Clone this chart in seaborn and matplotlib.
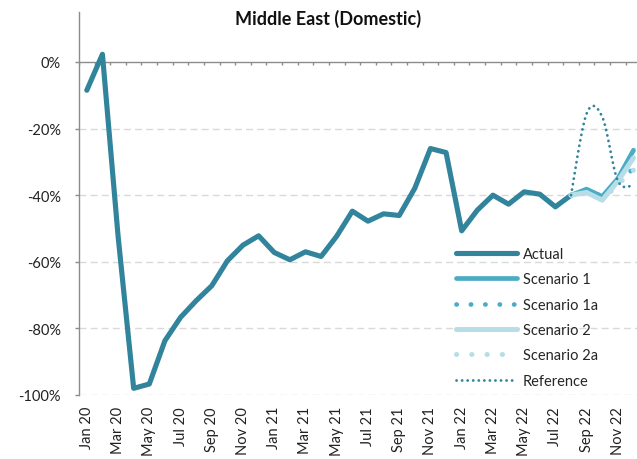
import numpy as np
import pandas as pd
import matplotlib
matplotlib.use("Agg")
import matplotlib.pyplot as plt
import seaborn as sns
from matplotlib.ticker import FuncFormatter

# Monthly change vs. 2019 (%), Middle East domestic market
months = [
    "Jan 20", "Feb 20", "Mar 20", "Apr 20", "May 20", "Jun 20",
    "Jul 20", "Aug 20", "Sep 20", "Oct 20", "Nov 20", "Dec 20",
    "Jan 21", "Feb 21", "Mar 21", "Apr 21", "May 21", "Jun 21",
    "Jul 21", "Aug 21", "Sep 21", "Oct 21", "Nov 21", "Dec 21",
    "Jan 22", "Feb 22", "Mar 22", "Apr 22", "May 22", "Jun 22",
    "Jul 22", "Aug 22", "Sep 22", "Oct 22", "Nov 22", "Dec 22",
]

actual = [
    -8.5, 2.3, -52.2, -98.0, -96.7, -83.7, -76.7, -71.7, -67.2, -59.7,
    -55.0, -52.2, -57.2, -59.4, -57.0, -58.4, -52.3, -44.8, -47.8, -45.6,
    -46.1, -37.9, -26.0, -27.2, -50.7, -44.5, -40.0, -42.7, -39.0, -39.7,
    -43.5, -40.0,
]

# Forecast series run from Aug 22 to Dec 22
scenario_months = ["Aug 22", "Sep 22", "Oct 22", "Nov 22", "Dec 22"]
scenario_1 = [-40.0, -38.2, -40.4, -35.0, -26.5]
scenario_1a = [-40.0, -38.2, -40.4, -36.2, -32.0]
scenario_2 = [-40.0, -39.2, -41.5, -35.8, -28.8]
scenario_2a = [-40.0, -39.2, -41.5, -36.8, -32.5]
reference = [-40.0, -15.5, -16.5, -35.7, -37.0]

y_ticks = [0, -20, -40, -60, -80, -100]

C_ACTUAL = "#31849B"
C_S1 = "#4BACC6"
C_S2 = "#B7DEE8"
C_AXIS = "#8C8C8C"
C_GRID = "#D9D9D9"

sns.set_theme(style="white")
plt.rcParams["font.family"] = ["Lato", "DejaVu Sans"]

pos = {m: i for i, m in enumerate(months)}
df_actual = pd.DataFrame({"x": [pos[m] for m in months[:len(actual)]], "y": actual})
sx = [pos[m] for m in scenario_months]


def smooth_curve(xs, ys, n=24):
    """Catmull-Rom curve through the given points (smoothed line style)."""
    pts = np.column_stack([xs, ys]).astype(float)
    ext = np.vstack([pts[0], pts, pts[-1]])
    out = []
    t = np.linspace(0, 1, n, endpoint=False)[:, None]
    h00 = 2 * t**3 - 3 * t**2 + 1
    h10 = t**3 - 2 * t**2 + t
    h01 = -2 * t**3 + 3 * t**2
    h11 = t**3 - t**2
    for i in range(len(pts) - 1):
        p0, p1, p2, p3 = ext[i], ext[i + 1], ext[i + 2], ext[i + 3]
        m1 = (p2 - p0) / 2
        m2 = (p3 - p1) / 2
        out.append(h00 * p1 + h10 * m1 + h01 * p2 + h11 * m2)
    out.append(pts[-1][None, :])
    seg = np.vstack(out)
    return seg[:, 0], seg[:, 1]


fig = plt.figure(figsize=(6.37, 4.60), dpi=100)
W, H = 637, 460
ax = fig.add_axes([79 / W, (H - 396) / H, 562.3 / W, 383 / H])

# Zero line with category-boundary tick marks
ax.axhline(0, color=C_AXIS, lw=1.0, zorder=1)
bounds = np.arange(len(months) + 1) - 0.5
ax.vlines(bounds, -0.9, 0, color=C_AXIS, lw=1.0, zorder=1)

round_caps = dict(solid_capstyle="round", solid_joinstyle="round",
                  dash_capstyle="round", estimator=None, sort=False)

sns.lineplot(data=df_actual, x="x", y="y", ax=ax, color=C_ACTUAL, lw=3.7,
             label="Actual", zorder=3, **round_caps)
sns.lineplot(x=sx, y=scenario_1, ax=ax, color=C_S1, lw=3.4,
             label="Scenario 1", zorder=3, **round_caps)
sns.lineplot(x=sx, y=scenario_1a, ax=ax, color=C_S1, lw=3.4,
             linestyle=(0, (0.05, 3.0)), label="Scenario 1a", zorder=3,
             **round_caps)
sns.lineplot(x=sx, y=scenario_2, ax=ax, color=C_S2, lw=3.6,
             label="Scenario 2", zorder=3, **round_caps)
sns.lineplot(x=sx, y=scenario_2a, ax=ax, color=C_S2, lw=3.6,
             linestyle=(0, (0.05, 3.0)), label="Scenario 2a", zorder=3,
             **round_caps)
rx, ry = smooth_curve(sx, reference)
sns.lineplot(x=rx, y=ry, ax=ax, color=C_ACTUAL, lw=2.0,
             linestyle=(0, (0.05, 1.95)), label="Reference", zorder=4,
             **round_caps)

ax.set_xlim(-0.5, len(months) - 0.5)
ax.set_ylim(-100, 15)

ax.set_yticks(y_ticks)
ax.yaxis.set_major_formatter(FuncFormatter(lambda v, p: f"{v:.0f}%"))
ax.set_xticks(range(0, len(months), 2))
ax.set_xticklabels(months[::2], rotation=90)

for v in y_ticks[1:]:
    ax.axhline(v, color=C_GRID, lw=1.0, ls=(0, (5, 3)), zorder=0)

for s in ("top", "right", "bottom"):
    ax.spines[s].set_visible(False)
ax.spines["left"].set_color(C_AXIS)
ax.spines["left"].set_linewidth(1.0)

ax.tick_params(axis="y", which="major", left=True, length=3, width=1.0,
               color=C_AXIS, pad=10, labelsize=10.5, labelcolor="#222222")
ax.tick_params(axis="x", which="major", bottom=False, length=0, pad=8,
               labelsize=10.5, labelcolor="#222222")
ax.set_xlabel("")
ax.set_ylabel("")

handles, labels = ax.get_legend_handles_labels()
ax.legend(handles, labels, loc="upper left", frameon=False,
          bbox_to_anchor=(456 / W, 1 - 248 / H), bbox_transform=fig.transFigure,
          borderpad=0, borderaxespad=0, handlelength=4.2, handletextpad=0.4,
          labelspacing=0.78, fontsize=10.5)

fig.text(328 / W, 1 - 19 / H, "Middle East (Domestic)", ha="center",
         va="center", fontsize=13, fontweight="bold", color="#111111")

fig.savefig("out.png", dpi=100)
